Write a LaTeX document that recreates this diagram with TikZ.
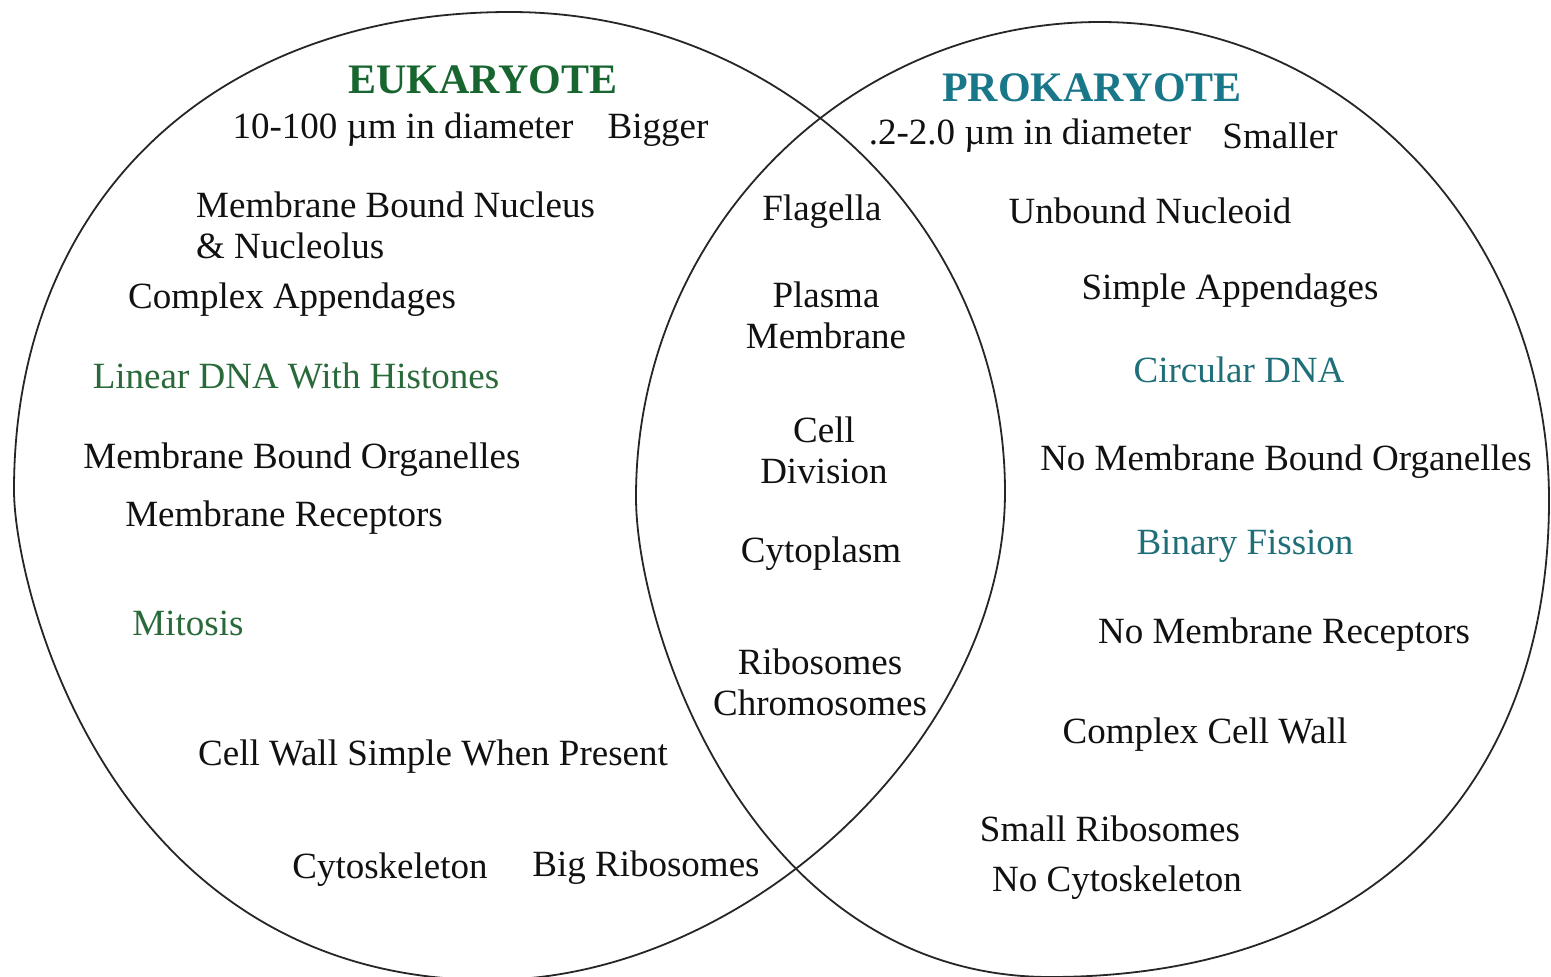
\documentclass[tikz,border=0pt]{standalone}
\usepackage{fontspec}
\setmainfont{Liberation Serif}
\definecolor{eugreen}{HTML}{17662F}
\definecolor{dnagreen}{HTML}{2A6A3A}
\definecolor{proteal}{HTML}{187789}
\definecolor{dnateal}{HTML}{1F6F78}
\definecolor{ink}{HTML}{111111}
\tikzset{cellline/.style={draw=black!85,line width=1.8pt},
  item/.style={font=\fontsize{37}{41}\selectfont,text=ink,inner sep=0pt,align=center},
  celltitle/.style={font=\fontsize{42}{48}\selectfont\bfseries,inner sep=0pt}}

\begin{document}
\begin{tikzpicture}[x=1pt,y=-1pt]
\useasboundingbox (0,0) rectangle (1551,977);
\fill[white] (0,0) rectangle (1551,977);
\draw[cellline] (510,12) .. controls (783,12) and (1005,227) .. (1005,492)
  .. controls (1005,736) and (748,980) .. (490,980)
  .. controls (109,980) and (14,588) .. (14,490)
  .. controls (14,203) and (212,12) .. cycle;
\draw[cellline] (1100,22) .. controls (1349,22) and (1549,236) .. (1549,500)
  .. controls (1549,796) and (1361,977) .. (1050,977)
  .. controls (752,977) and (636,631) .. (636,497)
  .. controls (636,235) and (844,22) .. cycle;
\node[celltitle,text=eugreen] (euk) at (483,80) {EUKARYOTE};
\node[item] (eusize) at (403,130) {10-100 µm in diameter};
\node[item] (eubig) at (658,130) {Bigger};
\node[item,anchor=west,align=left] (eunuc) at (196,225) {Membrane Bound Nucleus\\\& Nucleolus};
\node[item] (euapp) at (292,300) {Complex Appendages};
\node[item,text=dnagreen] (eudna) at (296,376) {Linear DNA With Histones};
\node[item] (euorg) at (302,460) {Membrane Bound Organelles};
\node[item] (eurec) at (284,518) {Membrane Receptors};
\node[item,text=dnagreen] (eumit) at (188,623) {Mitosis};
\node[item] (euwall) at (433,757) {Cell Wall Simple When Present};
\node[item] (eucyto) at (390,870) {Cytoskeleton};
\node[item] (eurib) at (646,868) {Big Ribosomes};
\node[item] (bothflag) at (822,212) {Flagella};
\node[item] (bothmem) at (826,315) {Plasma\\Membrane};
\node[item] (bothdiv) at (824,450) {Cell\\Division};
\node[item] (bothcyto) at (821,554) {Cytoplasm};
\node[item] (bothrib) at (820,682) {Ribosomes\\Chromosomes};
\node[celltitle,text=proteal] (prok) at (1092,88) {PROKARYOTE};
\node[item] (prosize) at (1030,136) {.2-2.0 µm in diameter};
\node[item] (prosmall) at (1280,136) {Smaller};
\node[item] (pronuc) at (1150,211) {Unbound Nucleoid};
\node[item] (proapp) at (1230,291) {Simple Appendages};
\node[item,text=dnateal] (prodna) at (1239,370) {Circular DNA};
\node[item] (proorg) at (1286,462) {No Membrane Bound Organelles};
\node[item,text=dnateal] (profis) at (1245,546) {Binary Fission};
\node[item] (prorec) at (1284,635) {No Membrane Receptors};
\node[item] (prowall) at (1205,735) {Complex Cell Wall};
\node[item] (prorib) at (1110,829) {Small Ribosomes};
\node[item] (procyto) at (1117,883) {No Cytoskeleton};
\end{tikzpicture}
\end{document}
